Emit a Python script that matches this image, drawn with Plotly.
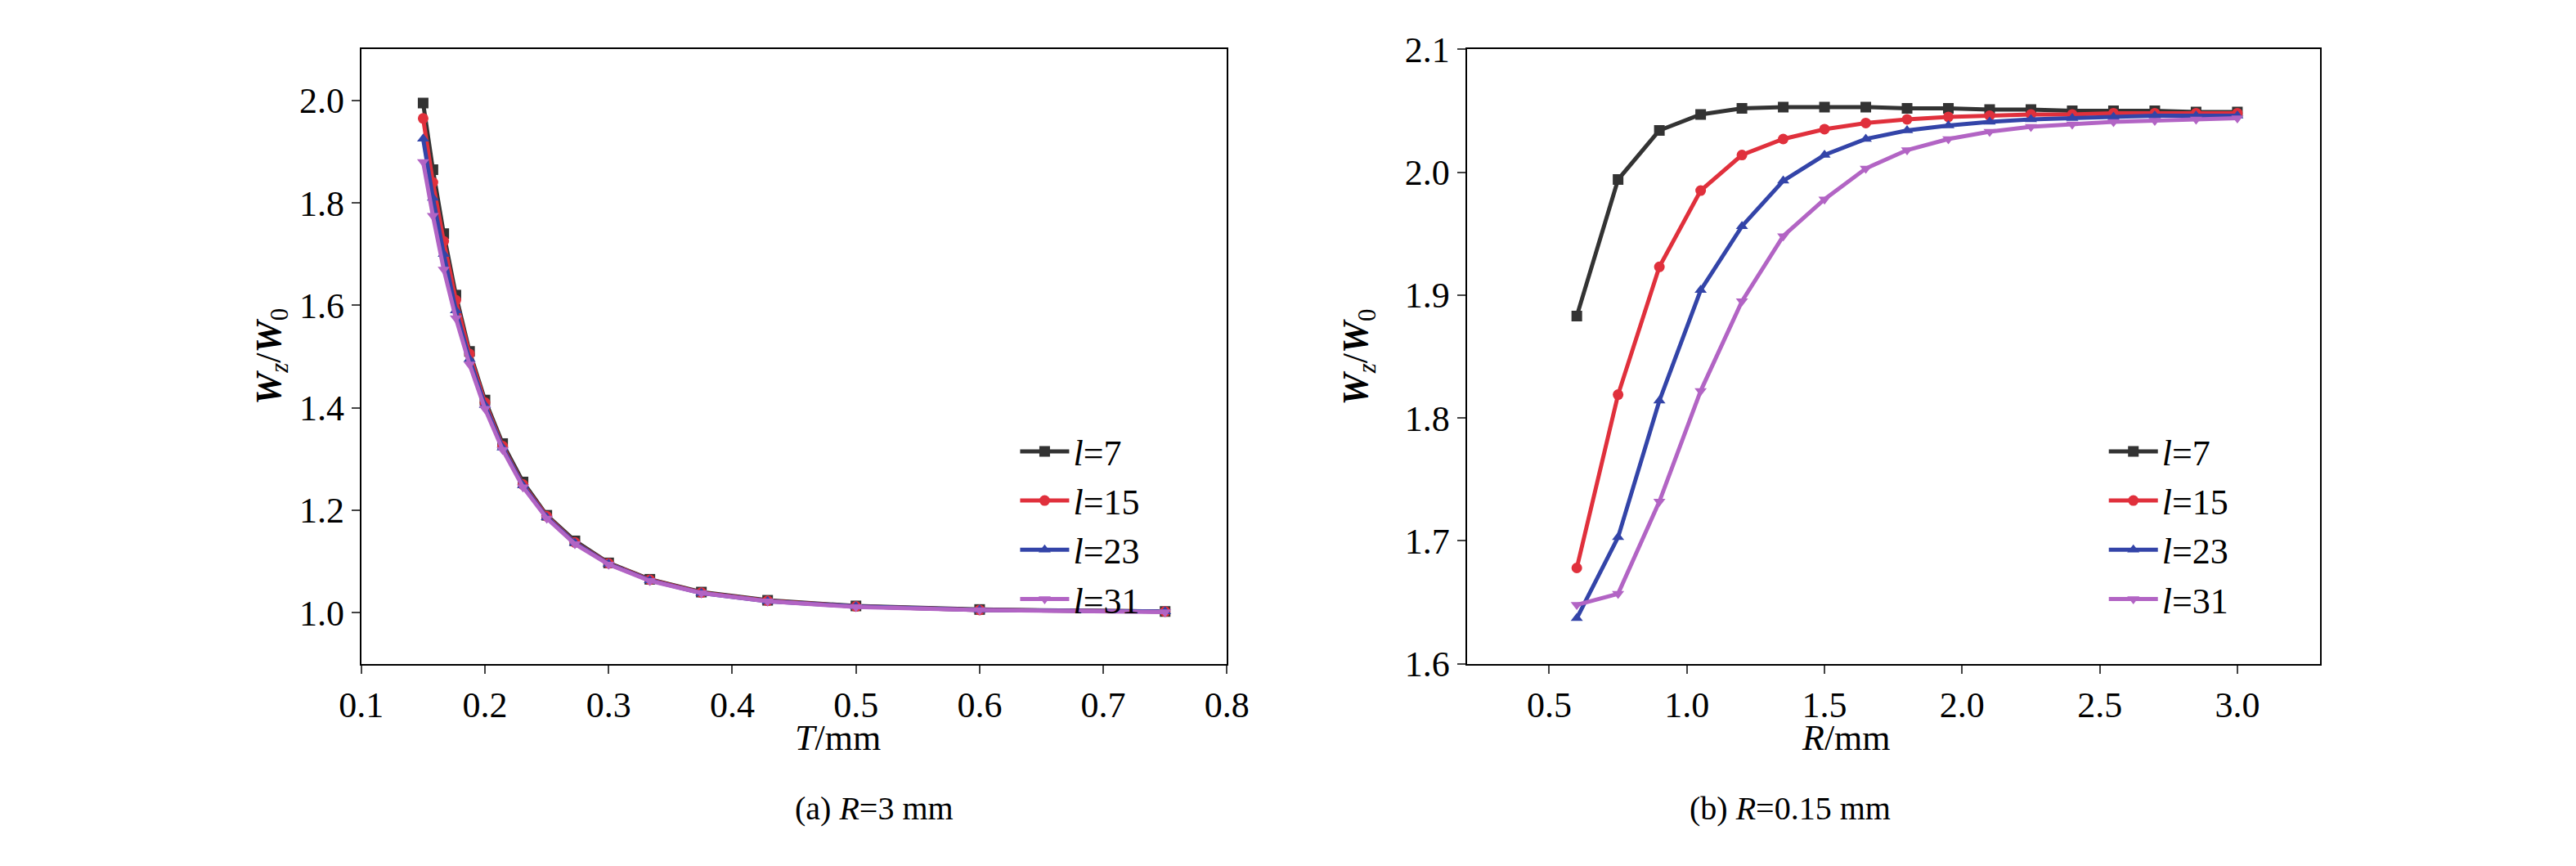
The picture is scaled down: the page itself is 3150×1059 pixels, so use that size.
import plotly.graph_objects as go

T = [3/n for n in range(20, 3, -1)]
left_vals = {
    "7": [1.995,1.865,1.74,1.62,1.51,1.415,1.33,1.255,1.19,1.14,1.097,1.065,1.04,1.024,1.013,1.006,1.002],
    "15": [1.965,1.84,1.725,1.61,1.505,1.41,1.325,1.25,1.188,1.137,1.096,1.064,1.039,1.023,1.012,1.005,1.002],
    "23": [1.925,1.81,1.70,1.59,1.495,1.405,1.322,1.248,1.186,1.136,1.095,1.063,1.038,1.022,1.012,1.005,1.002],
    "31": [1.88,1.775,1.67,1.575,1.485,1.398,1.318,1.245,1.184,1.134,1.094,1.062,1.038,1.022,1.011,1.005,1.001],
}
R = [0.6,0.75,0.9,1.05,1.2,1.35,1.5,1.65,1.8,1.95,2.1,2.25,2.4,2.55,2.7,2.85,3.0]
right_vals = {
    "7": [1.883,1.994,2.034,2.047,2.052,2.053,2.053,2.053,2.052,2.052,2.051,2.051,2.050,2.050,2.050,2.049,2.049],
    "15": [1.678,1.819,1.923,1.985,2.014,2.027,2.035,2.040,2.043,2.045,2.046,2.047,2.047,2.048,2.048,2.048,2.048],
    "23": [1.637,1.703,1.814,1.904,1.956,1.993,2.014,2.027,2.034,2.038,2.041,2.043,2.044,2.045,2.046,2.046,2.046],
    "31": [1.648,1.657,1.732,1.822,1.895,1.948,1.978,2.003,2.018,2.027,2.033,2.037,2.039,2.041,2.042,2.043,2.044],
}
labels = ["7", "15", "23", "31"]
colors = ["#333333", "#e0303c", "#3344a8", "#b264c4"]
symbols = ["square", "circle", "triangle-up", "triangle-down"]

FONT = "Liberation Serif, Times New Roman, serif"
fig = go.Figure()
for i, l in enumerate(labels):
    fig.add_trace(go.Scatter(x=T, y=left_vals[l], mode="lines+markers", name=f"<i>l</i>={l}",
                             line=dict(color=colors[i], width=5), marker=dict(symbol=symbols[i], size=13, color=colors[i]),
                             xaxis="x", yaxis="y", legend="legend"))
    fig.add_trace(go.Scatter(x=R, y=right_vals[l], mode="lines+markers", name=f"<i>l</i>={l}",
                             line=dict(color=colors[i], width=5), marker=dict(symbol=symbols[i], size=13, color=colors[i]),
                             xaxis="x2", yaxis="y2", legend="legend2"))

ax = dict(showline=True, linecolor="black", linewidth=2, mirror=True, ticks="outside", ticklen=10,
          tickwidth=2, showgrid=False, zeroline=False, tickfont=dict(family=FONT, size=44, color="black"))
leg = dict(font=dict(family=FONT, size=44, color="black"), bgcolor="rgba(0,0,0,0)",
           xanchor="left", yanchor="top", tracegroupgap=0, itemwidth=60)
fig.update_layout(
    width=3150, height=1059, margin=dict(l=0, r=0, t=0, b=0),
    font=dict(family=FONT, color="black"),
    paper_bgcolor="white", plot_bgcolor="white",
    xaxis=dict(ax, domain=[0.1314, 0.4733], range=[0.1, 0.8], dtick=0.1, tickformat=".1f"),
    yaxis=dict(ax, domain=[0.228, 0.972], range=[0.9, 2.1], dtick=0.2, tickformat=".1f"),
    xaxis2=dict(ax, domain=[0.568, 0.905], range=[0.2, 3.3], dtick=0.5, tick0=0.5, tickformat=".1f", anchor="y2"),
    yaxis2=dict(ax, domain=[0.228, 0.972], range=[1.6, 2.1], dtick=0.1, tickformat=".1f", anchor="x2"),
    legend=dict(leg, x=0.39, y=0.52),
    legend2=dict(leg, x=0.82, y=0.52),
)
af = dict(family=FONT, size=44, color="black")
fig.update_layout(annotations=[
    dict(text="<i>T</i>/mm", x=0.302, y=0.112, xref="paper", yref="paper", showarrow=False, font=af),
    dict(text="<i>R</i>/mm", x=0.736, y=0.112, xref="paper", yref="paper", showarrow=False, font=af),
    dict(text="(a) <i>R</i>=3 mm", x=0.302, y=0.029, xref="paper", yref="paper", showarrow=False, font=dict(af, size=40)),
    dict(text="(b) <i>R</i>=0.15 mm", x=0.736, y=0.029, xref="paper", yref="paper", showarrow=False, font=dict(af, size=40)),
    dict(text="<b><i>W</i></b><sub><i>z</i></sub>/<b><i>W</i></b><sub>0</sub>", x=0.086, y=0.6, textangle=-90, xref="paper", yref="paper", showarrow=False, font=af),
    dict(text="<b><i>W</i></b><sub><i>z</i></sub>/<b><i>W</i></b><sub>0</sub>", x=0.525, y=0.6, textangle=-90, xref="paper", yref="paper", showarrow=False, font=af),
])
fig.write_html("out.html")
